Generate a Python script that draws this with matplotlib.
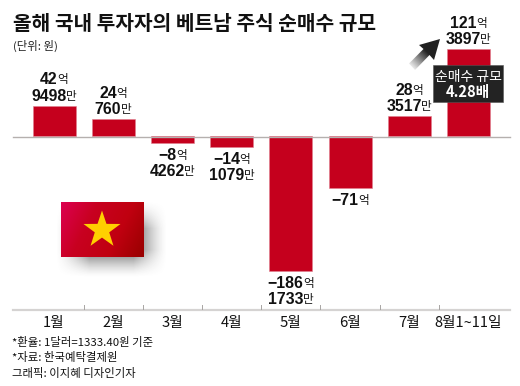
import numpy as np
import matplotlib
matplotlib.use("Agg")
import matplotlib.pyplot as plt
from matplotlib.transforms import Affine2D
from matplotlib.patches import Polygon, Rectangle
from matplotlib.colors import LinearSegmentedColormap

title = "올해 국내 투자자의 베트남 주식 순매수 규모"
unit_note = "(단위: 원)"
months = ["1월", "2월", "3월", "4월", "5월", "6월", "7월", "8월1~11일"]
values = [42.9498, 24.0760, -8.4262, -14.1079, -186.1733, -71.0, 28.3517, 121.3897]
eok_labels = ["42", "24", "−8", "−14", "−186", "−71", "28", "121"]
man_labels = ["9498", "760", "4262", "1079", "1733", "", "3517", "3897"]
footnotes = ["*환율: 1달러=1333.40원 기준", "*자료: 한국예탁결제원", "그래픽: 이지혜 디자인기자"]
callout = ["순매수 규모", "4.28배"]

W, H = 520, 386
KR = "Noto Sans CJK KR"
NUM = ["Liberation Sans Narrow", "Liberation Sans", "DejaVu Sans"]
plt.rcParams["font.family"] = [KR, "DejaVu Sans"]

fig = plt.figure(figsize=(W / 100, H / 100), dpi=100, facecolor="white")
ax = fig.add_axes([0, 0, 1, 1])
ax.set_xlim(-54 / 59.2, (W - 54) / 59.2)
ax.set_ylim((136.5 - H) / 0.72, 136.5 / 0.72)
ax.axis("off")
px = Affine2D().scale(1, -1).translate(0, H)   # pixel coords, origin top-left
renderer = fig.canvas.get_renderer()


def rich(xc, y, parts, color="#111111"):
    """Draw differently styled runs side by side, centred on xc."""
    items = []
    for s, weight, size, fam, gap in parts:
        t = ax.text(0, y, s, transform=px, fontsize=size, fontweight=weight, family=fam,
                    color=color, va="center", ha="left", zorder=6)
        items.append((t, t.get_window_extent(renderer).width + gap))
    x = xc - sum(w for _, w in items) / 2
    for t, w in items:
        t.set_x(x)
        x += w


x = np.arange(len(values))
ax.bar(x, values, width=43 / 59.2, color="#c5001d", edgecolor="#e0808f", linewidth=0.4, zorder=2)
ax.plot([13, 510], [136.5, 136.5], transform=px, color="#b5b0ae", lw=1.0, zorder=3)

# bottom rule and ticks
ax.plot([13, 510], [309.5, 309.5], transform=px, color="#d5d3d2", lw=1.6, zorder=1)
for i in range(len(values) - 1):
    xt = ax.transData.transform((i + 0.5, 0))[0]
    ax.plot([xt, xt], [305, 309], transform=px, color="#a8a5a3", lw=0.7, zorder=1)

# value labels, placed from the bar ends
for i, v in enumerate(values):
    xc, yb = ax.transData.transform((i, v))
    yb = H - yb
    man = man_labels[i]
    if v >= 0:
        y2 = yb - 9.5
        y1 = y2 - 16.5 if man else y2
    else:
        y1 = yb + 12.5
        y2 = y1 + 16.5
    rich(xc, y1, [(eok_labels[i], "bold", 11.4, NUM, -0.5), ("억", "normal", 8.4, KR, 0)])
    if man:
        rich(xc, y2, [(man, "bold", 11.4, NUM, -0.5), ("만", "normal", 8.4, KR, 0)])

# month labels
for i, m in enumerate(months):
    xc = ax.transData.transform((i, 0))[0]
    ax.text(xc, 323, m, transform=px, fontsize=10.6, color="#111111", ha="center", va="center")

# titles and footnotes
ax.text(13, 24, title, transform=px, fontsize=14.6, fontweight="bold", color="#111111", va="center")
ax.text(13, 45.5, unit_note, transform=px, fontsize=8.2, color="#222222", va="center")
for s, y in zip(footnotes, [342, 357, 374]):
    ax.text(12.5, y, s, transform=px, fontsize=8.2, color="#111111", va="center")

# flag shadow
yy, xx = np.mgrid[190:290, 50:190]
def soft(a, lo, hi, s):
    return np.clip((a - lo) / s + 0.5, 0, 1) * np.clip((hi - a) / s + 0.5, 0, 1)
sh = (soft(xx, 72, 150, 34) * soft(yy, 214, 263, 28)) ** 1.5 * 0.75
shade = np.zeros(sh.shape + (4,))
shade[..., :3] = 0.2
shade[..., 3] = sh
ax.imshow(shade, extent=(50, 190, 290, 190), transform=px, aspect="auto", zorder=1, interpolation="bilinear")

# flag
fy, fx = np.mgrid[0:1:55j, 0:1:83j]
t = np.clip(fx * 0.75 + fy * 0.25, 0, 1)
flag_cmap = LinearSegmentedColormap.from_list("flag", ["#dc0050", "#c80020", "#c00010", "#980000"])
ax.imshow(flag_cmap(t), extent=(61, 144, 257, 202), transform=px, aspect="auto", zorder=2)
ang = np.deg2rad(90 + np.arange(10) * 36)
rad = np.where(np.arange(10) % 2 == 0, 19.5, 7.6)
star = np.c_[102 + rad * np.cos(ang), 230 - rad * np.sin(ang)]
ax.add_patch(Polygon(star, closed=True, transform=px, facecolor="#ffd000", edgecolor="none", zorder=3))

# gradient arrow
ay, ax_ = np.mgrid[35:75:160j, 405:445:160j]
g = np.clip(((ax_ - 411) + (70 - ay)) / 34, 0, 1)
arr = np.zeros(g.shape + (4,))
arr[..., :3] = 0.13
arr[..., 3] = g ** 1.1
im = ax.imshow(arr, extent=(405, 445, 75, 35), transform=px, aspect="auto", zorder=4, interpolation="bilinear")
arrow_shape = Polygon([(440, 39), (434, 60), (429.5, 55), (415, 70), (409, 63.5), (423.5, 49), (419, 45)],
                      closed=True, transform=px, facecolor="none", edgecolor="none")
ax.add_patch(arrow_shape)
im.set_clip_path(arrow_shape)

# callout
ax.add_patch(Rectangle((433, 65), 70, 36.5, transform=px, facecolor="#232323",
                       edgecolor="#555555", linewidth=0.4, zorder=7))
ax.text(468, 76.5, callout[0], transform=px, fontsize=10, color="white", ha="center", va="center", zorder=8)
ax.text(468, 92, callout[1], transform=px, fontsize=10.6, fontweight="bold", color="white",
        ha="center", va="center", zorder=8)

ax.set_xlim(-54 / 59.2, (W - 54) / 59.2)
ax.set_ylim((136.5 - H) / 0.72, 136.5 / 0.72)
fig.savefig("out.png", dpi=100)
